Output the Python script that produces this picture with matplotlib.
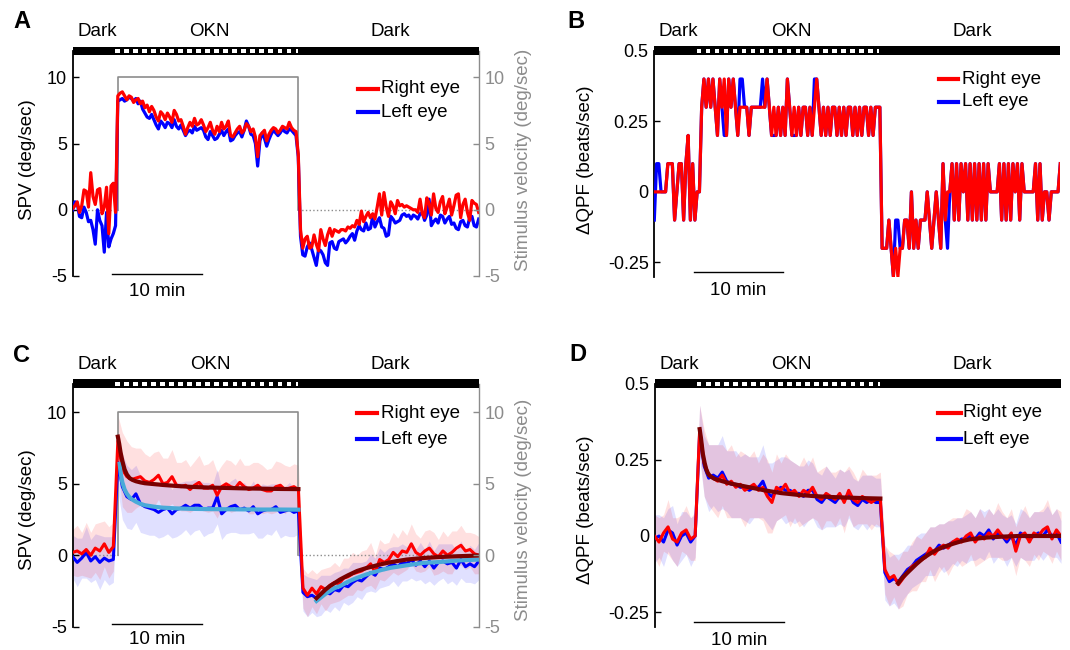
import numpy as np
import matplotlib
matplotlib.use("Agg")
import matplotlib.pyplot as plt
from matplotlib.patches import Rectangle
from matplotlib.lines import Line2D
import matplotlib.transforms as mtransforms

plt.rcParams['font.family'] = ['Liberation Sans', 'DejaVu Sans']

# ---------------- data ----------------
T_MIN, T_MAX = -5, 40
OKN_START, OKN_END = 0, 20
SCALE_BAR = (-0.6, 9.3)  # 10 min
phase_labels = ["Dark", "OKN", "Dark"]
phase_centers = [-2.3, 10.2, 30.2]

t_half = np.arange(T_MIN, T_MAX + 0.01, 0.5)      # 91 samples
t_quarter = np.arange(T_MIN, T_MAX + 0.001, 0.25)  # 181 samples

stim_t = [-5, 0, 0, 20, 20, 40]
stim_v = [0, 0, 10, 10, 0, 0]

# Panel A : SPV single subject (deg/sec), 15 s samples
spv_right_A = [
    0.1, 0.3, 0.6, -0.2, 0.3, 1.5, 1.4, 0.2, 2.8, 1.0, 0.4, 1.5, 1.6, -0.3, 0.2, 1.7, -1.8, 1.8, 2.0, -0.2,
    8.6, 8.8, 8.9, 8.6, 8.3, 8.6, 8.5, 8.1, 8.3, 8.4, 8.0, 8.2, 7.7, 7.9, 7.4, 7.8, 7.5, 7.0, 6.7, 7.4,
    7.2, 6.8, 7.3, 7.0, 6.6, 7.5, 7.2, 6.7, 6.8, 6.3, 5.7, 6.2, 6.6, 6.3, 6.9, 6.4, 6.5, 6.8, 6.4, 5.9,
    6.2, 6.6, 6.0, 5.7, 6.3, 5.9, 6.6, 6.1, 6.3, 6.7, 5.6, 5.5, 5.8, 6.1, 6.3, 5.8, 6.0, 6.5, 6.3, 5.9,
    6.1, 5.5, 4.0, 5.6, 5.8, 6.0, 5.2, 5.7, 6.0, 6.2, 6.1, 5.8, 6.0, 6.3, 6.2, 6.1, 6.6, 6.2, 6.0, 5.9,
    4.2, -1.5, -2.9, -2.2, -2.0, -2.9, -2.8, -1.9, -2.6, -3.1, -1.5, -2.2, -2.7, -1.9, -1.4, -2.0, -1.5, -1.6, -1.7, -1.5,
    -1.5, -1.6, -1.3, -1.4, -1.2, -1.3, -0.8, -1.1, -0.1, -0.9, -0.5, -0.2, -0.6, -0.3, -0.7, 0.2, 1.2, -0.4, 1.3, 0.2,
    -0.5, 0.6, 0.3, -0.3, 0.7, 0.3, 0.4, 0.2, 0.3, 0.2, 0.1, 0.0, 0.0, -0.2, 0.8, -0.3, -0.6, 0.9, 0.5, -0.4,
    1.2, 0.1, -0.2, 0.6, 1.0, -0.3, 0.2, 0.8, -0.4, 0.3, 1.1, 1.2, -0.6, 0.4, 0.8, -0.2, -0.8, 0.7, 0.5, 0.4,
    -0.2]
spv_left_A = [
    0.0, 0.6, 0.5, -0.5, -0.6, 0.2, -0.2, -0.9, -0.8, -1.5, -2.6, 0.0, -0.8, -1.2, -3.2, -0.2, -2.8, -2.2, -1.8, -1.2,
    8.2, 8.3, 8.4, 8.2, 8.3, 8.5, 8.4, 8.2, 8.4, 8.0, 8.2, 7.6, 7.3, 7.0, 6.9, 7.2, 6.8, 6.4, 6.1, 6.7,
    6.5, 6.2, 6.6, 6.5, 6.2, 6.8, 6.3, 6.1, 6.4, 6.0, 5.6, 5.9, 6.0, 5.8, 6.3, 6.0, 6.1, 6.2, 6.0, 5.5,
    5.3, 5.9, 5.6, 5.3, 5.4, 5.7, 6.0, 5.6, 5.9, 6.1, 5.2, 5.3, 5.6, 5.8, 5.9, 5.5, 6.0, 6.7, 6.3, 5.7,
    5.6, 5.0, 3.3, 5.2, 5.8, 5.4, 4.8, 5.3, 5.7, 6.0, 5.8, 5.6, 5.8, 6.1, 5.9, 5.8, 6.1, 6.0, 5.8, 5.6,
    4.0, -2.0, -3.4, -3.5, -2.8, -2.5, -3.0, -3.6, -4.2, -3.0, -3.1, -3.4, -4.0, -4.2, -2.5, -2.4, -2.9, -3.0, -2.4, -2.3,
    -2.2, -2.5, -2.3, -2.0, -1.8, -2.3, -1.6, -1.2, -1.5, -1.6, -1.0, -1.5, -1.4, -0.5, -1.3, -0.9, -0.6, -1.3, -1.4, -2.0,
    -1.9, -0.5, -0.7, -1.0, -0.9, -0.8, -0.4, -0.3, -0.5, -0.4, -0.7, -0.4, -0.5, -0.7, -0.3, -0.2, -0.8, -0.4, 0.8, -1.2,
    -0.9, -0.7, -1.0, -0.4, -0.5, -1.0, -0.7, -0.5, -1.1, -1.0, -1.4, -1.5, -0.9, -0.8, -1.2, -1.3, -0.6, -0.5, -1.2, -1.3,
    -0.7]

# Panel B : dQPF single subject, in tenths of beats/sec, 15 s samples
qpf_right_B_tenths = (
    [0, 0, 0, 0, 0, 0, 1, 1, 1, -1, 0, 1, 1, -1, 1, 2, -1, 1, -1, 0, 0]
    + [3, 4, 3, 4, 3, 4, 3, 2, 4, 3, 4, 2, 4, 3, 4, 3, 2, 3, 3, 3]
    + [3, 2, 3, 3, 3, 3, 3, 3, 3, 4, 3, 2, 3, 2, 3, 2, 3, 2, 4, 3]
    + [2, 3, 2, 3, 2, 3, 3, 2, 3, 2, 3, 4, 3, 2, 3, 2, 3, 2, 3, 3]
    + [2, 3, 2, 3, 2, 3, 3, 2, 3, 2, 3, 2, 3, 3, 2, 3, 2, 3, 3, 3]
    + [-2, -2, -2, -1, -2, -3, -2, -3, -2, -2, -1, -1, -2, 0, -2, -1, -2, -1, -1, -1]
    + [0, -1, -2, -1, 0, -1, -2, 1, -1, 0, 0, 1, -1, 1, -1, 1, 0, 1, -1, 1]
    + [-1, 1, -1, 1, -1, 1, -1, 1, 0, 0, 0, 0, 1, -1, 1, -1, 1, -1, 1, 0]
    + [1, -1, 1, 0, 0, 0, 0, 0, 1, -1, 1, -1, 0, 0, -1, 0, 0, 0, 0, 1])
qpf_left_B_tenths = (
    [-1, 1, 1, 0, 0, 0, 1, 1, 1, -1, 0, 1, 1, -1, 1, 2, -1, 1, -1, 0, 0]
    + [3, 4, 3, 4, 3, 4, 3, 2, 4, 3, 2, 2, 4, 3, 4, 3, 2, 4, 4, 3]
    + [3, 2, 3, 3, 3, 3, 3, 4, 3, 4, 3, 2, 2, 2, 3, 2, 3, 2, 4, 3]
    + [2, 2, 2, 3, 2, 3, 3, 2, 3, 2, 4, 4, 3, 2, 3, 2, 3, 2, 3, 3]
    + [2, 3, 2, 3, 2, 3, 3, 2, 3, 2, 3, 2, 3, 3, 2, 3, 2, 3, 3, 3]
    + [-2, -2, -2, -1, -2, -3, -1, -1, -2, -2, -1, -1, -2, 0, -2, -1, -2, -1, -1, -1]
    + [0, -1, -2, -1, 0, -1, -2, 1, -1, -2, 0, 1, -1, 1, -1, 1, 0, 1, -1, 1]
    + [-1, 1, -1, 1, -1, 1, -1, 1, 0, 0, 0, 0, 1, -1, 1, -1, 1, -1, 1, 0]
    + [1, -1, 1, 0, 0, 0, 0, 0, 1, -1, 1, -1, 0, 0, -1, 0, 0, 0, 0, 1])

# Panel C : SPV group mean and SD (deg/sec), 30 s samples
spv_right_C = [
    0.2, 0.3, 0.1, 0.4, 0.0, 0.5, 0.3, 0.8, 0.2, 0.6,
    8.0, 6.0, 5.5, 5.3, 5.4, 5.5, 5.2, 5.1, 5.3, 5.6,
    5.0, 5.1, 5.5, 4.9, 4.8, 4.9, 4.6, 4.9, 5.1, 4.7,
    4.7, 4.9, 4.2, 4.8, 5.0, 4.8, 4.7, 5.1, 4.8, 4.6,
    4.7, 4.9, 4.6, 4.5, 4.5, 4.8, 4.9, 4.6, 4.7, 4.8,
    4.6, -2.3, -2.8, -2.3, -2.7, -2.2, -2.4, -2.1, -1.9, -2.0,
    -1.6, -1.5, -1.3, -1.2, -1.1, -0.9, -0.6, -1.2, -0.3, -0.5,
    -0.3, 0.2, -0.1, 0.3, 0.2, 0.8, 0.2, 0.0, 0.3, 0.5,
    0.1, -0.1, 0.3, 0.0, 0.2, 0.5, 0.7, 0.3, 0.4, 0.1,
    0.0]
spv_left_C = [
    -0.1, -0.5, -0.2, 0.2, -0.4, -0.1, -0.5, -0.2, -0.4, -0.3,
    6.5, 4.8, 4.1, 3.9, 4.3, 3.6, 3.4, 3.3, 3.2, 3.0,
    3.2, 3.3, 2.9, 3.2, 3.3, 3.5, 3.3, 3.5, 3.5, 3.2,
    3.3, 3.3, 4.1, 2.9, 3.2, 3.4, 3.5, 3.2, 3.3, 3.1,
    3.4, 2.9, 3.1, 3.2, 3.2, 3.4, 3.0, 3.1, 3.2, 3.0,
    3.1, -2.6, -2.9, -2.8, -3.0, -2.8, -2.6, -2.7, -2.4, -2.5,
    -2.1, -2.2, -1.9, -1.7, -1.8, -1.5, -1.2, -1.4, -0.9, -1.0,
    -0.8, -0.6, -0.8, -0.5, -0.6, -0.3, -0.7, -0.4, -0.8, -0.4,
    -0.9, -0.5, -0.4, -0.6, -0.5, -0.9, -0.3, -0.8, -0.6, -0.8,
    -0.4]
spv_right_sd_C = [
    1.6, 1.8, 1.5, 1.9, 1.6, 1.7, 2.0, 1.6, 1.8, 1.7,
    1.8, 2.6, 2.5, 2.3, 2.1, 2.0, 1.9, 1.8, 1.9, 1.7,
    1.8, 1.7, 1.9, 1.6, 1.7, 1.8, 1.6, 1.7, 1.9, 1.6,
    1.7, 1.8, 1.6, 1.5, 1.7, 1.8, 1.6, 1.7, 1.5, 1.7,
    1.8, 1.6, 1.7, 1.5, 1.6, 1.8, 1.6, 1.7, 1.5, 1.6,
    1.7, 1.4, 1.5, 1.3, 1.4, 1.2, 1.5, 1.3, 1.4, 1.2,
    1.4, 1.3, 1.5, 1.2, 1.4, 1.3, 1.5, 1.2, 1.4, 1.3,
    1.2, 1.4, 1.3, 1.5, 1.2, 1.4, 1.3, 1.2, 1.4, 1.3,
    1.5, 1.2, 1.4, 1.3, 1.5, 1.2, 1.4, 1.3, 1.2, 1.4,
    1.3]
spv_left_sd_C = [
    1.5, 1.7, 1.4, 1.8, 1.5, 1.6, 1.9, 1.5, 1.7, 1.6,
    2.0, 2.3, 2.2, 2.1, 2.0, 2.0, 1.9, 1.9, 1.8, 1.8,
    1.9, 1.8, 1.7, 1.9, 1.8, 1.7, 1.9, 1.8, 1.7, 1.9,
    1.8, 1.7, 1.9, 1.8, 1.7, 1.8, 1.9, 1.7, 1.8, 1.6,
    1.8, 1.7, 1.9, 1.7, 1.8, 1.6, 1.8, 1.7, 1.9, 1.7,
    1.6, 1.3, 1.4, 1.2, 1.3, 1.4, 1.2, 1.3, 1.2, 1.4,
    1.2, 1.3, 1.4, 1.2, 1.3, 1.1, 1.3, 1.2, 1.4, 1.2,
    1.3, 1.2, 1.4, 1.3, 1.2, 1.3, 1.1, 1.3, 1.2, 1.4,
    1.2, 1.3, 1.2, 1.4, 1.3, 1.2, 1.3, 1.1, 1.3, 1.2,
    1.3]
# exponential fits
fit_okn_right_C_t = [0, 0.15, 0.3, 0.5, 0.75, 1.0, 1.3, 1.6, 2.0, 2.5, 3.0, 4.0, 5.0, 6.5, 8.0, 10, 12, 14, 16, 18, 20]
fit_okn_right_C_v = [8.3, 7.8, 7.2, 6.6, 6.0, 5.65, 5.4, 5.28, 5.18, 5.1, 5.04, 4.98, 4.92, 4.85, 4.79, 4.74, 4.71, 4.68, 4.66, 4.64, 4.63]
fit_okn_left_C_t = [0.2, 0.35, 0.5, 0.75, 1.0, 1.3, 1.6, 2.0, 2.5, 3.0, 4.0, 5.0, 6.5, 8.0, 10, 12, 14, 16, 18, 20]
fit_okn_left_C_v = [6.4, 5.6, 5.1, 4.6, 4.3, 4.05, 3.9, 3.75, 3.6, 3.5, 3.4, 3.33, 3.28, 3.25, 3.23, 3.22, 3.21, 3.2, 3.2, 3.19]
fit_dark_C_t = [22.0, 22.5, 23.0, 23.5, 24.0, 24.6, 25.5, 26.5, 27.5, 28.3, 29.2, 30.2, 31.0, 32.0, 33.9, 35.7, 37.6, 40.0]
fit_dark_right_C_v = [-3.0, -2.7, -2.4, -2.15, -1.95, -1.7, -1.4, -1.1, -0.9, -0.77, -0.62, -0.49, -0.4, -0.3, -0.19, -0.12, -0.07, -0.02]
fit_dark_left_C_v = [-3.2, -2.95, -2.7, -2.5, -2.3, -2.16, -1.85, -1.58, -1.35, -1.19, -1.03, -0.88, -0.8, -0.7, -0.53, -0.47, -0.37, -0.3]

# Panel D : dQPF group mean and SD (beats/sec), 30 s samples
qpf_right_D = [
    0.00, -0.02, 0.01, 0.03, -0.01, -0.02, 0.01, 0.02, -0.01, 0.00,
    0.35, 0.24, 0.20, 0.19, 0.18, 0.20, 0.17, 0.18, 0.16, 0.17,
    0.15, 0.16, 0.17, 0.15, 0.16, 0.13, 0.11, 0.16, 0.15, 0.17,
    0.14, 0.15, 0.13, 0.15, 0.14, 0.16, 0.13, 0.12, 0.14, 0.13,
    0.12, 0.14, 0.11, 0.15, 0.12, 0.11, 0.13, 0.12, 0.11, 0.12,
    0.12, -0.11, -0.14, -0.13, -0.16, -0.14, -0.12, -0.10, -0.09, -0.08,
    -0.07, -0.04, -0.06, -0.04, -0.03, -0.04, -0.02, -0.01, -0.02, 0.00,
    0.01, -0.02, 0.00, -0.01, 0.01, 0.00, 0.02, 0.00, -0.01, 0.01,
    -0.05, 0.00, 0.01, -0.02, 0.01, 0.00, 0.02, 0.03, -0.01, 0.02,
    0.00]
qpf_left_D = [
    -0.01, 0.00, -0.02, 0.02, 0.01, -0.03, 0.00, 0.01, -0.02, 0.00,
    0.34, 0.23, 0.19, 0.20, 0.19, 0.21, 0.18, 0.17, 0.17, 0.16,
    0.16, 0.15, 0.16, 0.16, 0.18, 0.14, 0.13, 0.15, 0.16, 0.15,
    0.15, 0.14, 0.14, 0.13, 0.15, 0.15, 0.12, 0.11, 0.13, 0.12,
    0.11, 0.13, 0.12, 0.14, 0.11, 0.10, 0.12, 0.11, 0.12, 0.11,
    0.11, -0.12, -0.15, -0.14, -0.15, -0.13, -0.11, -0.10, -0.08, -0.07,
    -0.06, -0.05, -0.05, -0.03, -0.04, -0.03, -0.02, -0.02, -0.01, -0.01,
    0.00, -0.01, 0.01, 0.00, 0.02, -0.01, 0.01, 0.00, -0.02, 0.00,
    -0.03, 0.01, 0.00, -0.01, 0.00, 0.01, 0.00, 0.02, 0.00, 0.01,
    -0.02]
qpf_right_sd_D = [
    0.07, 0.08, 0.06, 0.09, 0.07, 0.08, 0.06, 0.08, 0.07, 0.08,
    0.08, 0.11, 0.10, 0.11, 0.12, 0.10, 0.11, 0.12, 0.10, 0.11,
    0.12, 0.10, 0.11, 0.09, 0.11, 0.12, 0.10, 0.11, 0.09, 0.10,
    0.11, 0.09, 0.10, 0.11, 0.09, 0.10, 0.08, 0.10, 0.09, 0.08,
    0.09, 0.08, 0.10, 0.08, 0.09, 0.07, 0.09, 0.08, 0.09, 0.08,
    0.09, 0.08, 0.09, 0.07, 0.08, 0.09, 0.07, 0.08, 0.09, 0.07,
    0.08, 0.07, 0.09, 0.08, 0.07, 0.09, 0.08, 0.07, 0.08, 0.09,
    0.07, 0.08, 0.09, 0.07, 0.08, 0.07, 0.09, 0.08, 0.07, 0.08,
    0.08, 0.07, 0.09, 0.08, 0.07, 0.08, 0.07, 0.09, 0.08, 0.07,
    0.08]
qpf_left_sd_D = [
    0.08, 0.07, 0.08, 0.07, 0.09, 0.07, 0.08, 0.07, 0.08, 0.07,
    0.09, 0.10, 0.11, 0.10, 0.11, 0.12, 0.10, 0.11, 0.11, 0.10,
    0.11, 0.11, 0.10, 0.10, 0.12, 0.10, 0.11, 0.10, 0.10, 0.11,
    0.10, 0.10, 0.09, 0.10, 0.10, 0.09, 0.09, 0.09, 0.10, 0.09,
    0.08, 0.09, 0.09, 0.08, 0.08, 0.08, 0.08, 0.09, 0.08, 0.08,
    0.08, 0.09, 0.08, 0.08, 0.09, 0.08, 0.08, 0.07, 0.08, 0.08,
    0.07, 0.08, 0.08, 0.07, 0.08, 0.08, 0.07, 0.08, 0.07, 0.08,
    0.08, 0.07, 0.08, 0.08, 0.07, 0.08, 0.08, 0.07, 0.08, 0.07,
    0.07, 0.08, 0.08, 0.07, 0.08, 0.07, 0.08, 0.08, 0.07, 0.08,
    0.07]
fit_okn_D_t = [0, 0.15, 0.35, 0.55, 0.72, 0.9, 1.09, 1.35, 1.64, 2.5, 3.49, 5.33, 7.18, 9.0, 10.9, 12.7, 14.6, 16.4, 18.6, 20.0]
fit_okn_D_v = [0.351, 0.32, 0.27, 0.24, 0.22, 0.207, 0.199, 0.193, 0.188, 0.18, 0.172, 0.161, 0.15, 0.141, 0.135, 0.131, 0.128, 0.126, 0.124, 0.123]
fit_dark_D_t = [21.97, 22.5, 23.3, 24.0, 24.7, 25.4, 26.2, 27.1, 28.1, 29.0, 29.9, 31.8, 33.6, 35.4, 40.0]
fit_dark_D_v = [-0.155, -0.135, -0.112, -0.092, -0.074, -0.06, -0.046, -0.035, -0.025, -0.017, -0.011, -0.005, -0.002, 0.0, 0.0]

# ---------------- style ----------------
RED = '#ff0000'
BLUE = '#0000ff'
FIT_RED = '#7a0000'
FIT_BLUE = '#4aaad8'
GRAY = '#8c8c8c'
FS = 13.5

W, H = 1070, 650
fig = plt.figure(figsize=(W / 100, H / 100), dpi=100)


def px_axes(left, right, top, bottom):
    return fig.add_axes([left / W, 1 - bottom / H, (right - left) / W, (bottom - top) / H])


def fig_pt(x, y):
    return x / W, 1 - y / H


def style_main(ax, ylim, yticks, yticklabels):
    ax.set_xlim(T_MIN, T_MAX)
    ax.set_ylim(*ylim)
    for s in ['top', 'bottom', 'right']:
        ax.spines[s].set_visible(False)
    ax.spines['left'].set_linewidth(1.3)
    ax.set_xticks([])
    ax.set_yticks(yticks)
    ax.set_yticklabels(yticklabels)
    ax.tick_params(axis='y', direction='in', length=4, width=1, labelsize=FS - 0.5, pad=4)
    ax.patch.set_alpha(0)


def right_axis(ax, ylim, yticks, yticklabels):
    ax2 = ax.twinx()
    ax2.set_ylim(*ylim)
    for s in ['top', 'bottom', 'left']:
        ax2.spines[s].set_visible(False)
    ax2.spines['right'].set_color(GRAY)
    ax2.spines['right'].set_linewidth(1.0)
    ax2.set_yticks(yticks)
    ax2.set_yticklabels(yticklabels)
    ax2.tick_params(axis='y', direction='in', length=4, width=1, colors=GRAY,
                    labelsize=FS - 0.5, pad=4)
    return ax2


def top_bar(left, right, top, bottom, text_y):
    bx = px_axes(left, right, top, bottom)
    bx.set_xlim(T_MIN, T_MAX)
    bx.set_ylim(0, 1)
    bx.axis('off')
    bx.add_patch(Rectangle((T_MIN, 0), T_MAX - T_MIN, 1, color='black', lw=0))
    for k in range(OKN_START, OKN_END + 1):
        x0 = k - 0.3
        x1 = min(k + 0.2, OKN_END - 0.05)
        bx.add_patch(Rectangle((x0, 0.27), x1 - x0, 0.46, color='white', lw=0))
    tr = mtransforms.blended_transform_factory(bx.transData, fig.transFigure)
    for lab, c in zip(phase_labels, phase_centers):
        bx.text(c, 1 - text_y / H, lab, transform=tr, ha='center', va='center', fontsize=FS)
    return bx


def legend(x_handle0, x_handle1, x_text, y1, y2):
    for y, col, lab in [(y1, RED, 'Right eye'), (y2, BLUE, 'Left eye')]:
        xa, ya = fig_pt(x_handle0, y)
        xb, _ = fig_pt(x_handle1, y)
        fig.add_artist(Line2D([xa, xb], [ya, ya], transform=fig.transFigure, color=col, lw=3))
        xt, yt = fig_pt(x_text, y)
        fig.text(xt, yt, lab, ha='left', va='center', fontsize=FS)


def scale_bar(ax, y_bar, y_text):
    ax.plot(list(SCALE_BAR), [y_bar, y_bar], color='black', lw=1, clip_on=False)
    ax.text(sum(SCALE_BAR) / 2, y_text, '10 min', ha='center', va='center', fontsize=FS,
            clip_on=False)


def stimulus(ax):
    ax.plot(stim_t[1:5], stim_v[1:5], color=GRAY, lw=1.2, zorder=1)
    ax.plot(stim_t[0:2], stim_v[0:2], color=GRAY, lw=1.0, ls=':', zorder=1)
    ax.plot(stim_t[4:6], stim_v[4:6], color=GRAY, lw=1.0, ls=':', zorder=1)


def ylab(x, y, text, color='black'):
    fx, fy = fig_pt(x, y)
    fig.text(fx, fy, text, rotation=90, ha='center', va='center', fontsize=FS, color=color)


def panel_letter(x, y, s):
    fx, fy = fig_pt(x, y)
    fig.text(fx, fy, s, ha='center', va='center', fontsize=17, fontweight='bold')


spv_ticks = [-5, 0, 5, 10]
spv_labels = ['-5', '0', '5', '10']
qpf_ticks = [-0.25, 0, 0.25, 0.5]
qpf_labels = ['-0.25', '0', '0.25', '0.5']

# ---------------- Panel A ----------------
axA = px_axes(72.7, 478.7, 50.8, 276.0)
style_main(axA, (-5, 12), spv_ticks, spv_labels)
right_axis(axA, (-5, 12), spv_ticks, spv_labels)
stimulus(axA)
axA.plot(t_quarter, spv_left_A, color=BLUE, lw=2.3, zorder=3)
axA.plot(t_quarter, spv_right_A, color=RED, lw=2.3, zorder=4)
scale_bar(axA, -4.87, -6.2)
top_bar(72.7, 478.7, 46.5, 55.0, 32)
legend(358, 378, 381, 88.5, 112.3)
ylab(28, 160, 'SPV (deg/sec)')
ylab(524, 160, 'Stimulus velocity (deg/sec)', GRAY)
panel_letter(22, 22, 'A')

# ---------------- Panel B ----------------
axB = px_axes(654.3, 1060.3, 50.8, 276.5)
style_main(axB, (-0.3, 0.5), qpf_ticks, qpf_labels)
axB.plot(t_quarter, np.array(qpf_left_B_tenths) / 10, color=BLUE, lw=2.3, zorder=3)
axB.plot(t_quarter, np.array(qpf_right_B_tenths) / 10, color=RED, lw=2.3, zorder=4)
scale_bar(axB, -0.285, -0.348)
top_bar(654.3, 1060.3, 46.3, 55.0, 32)
legend(939, 958, 961.5, 79, 101.7)
ylab(586, 160, '\u0394QPF (beats/sec)')
panel_letter(576, 22, 'B')

# ---------------- Panel C ----------------
axC = px_axes(72.7, 479.0, 383.8, 626.7)
style_main(axC, (-5, 12), spv_ticks, spv_labels)
right_axis(axC, (-5, 12), spv_ticks, spv_labels)
rC = np.array(spv_right_C)
lC = np.array(spv_left_C)
axC.fill_between(t_half, lC - np.array(spv_left_sd_C), lC + np.array(spv_left_sd_C),
                 color=BLUE, alpha=0.12, lw=0, zorder=1)
axC.fill_between(t_half, rC - np.array(spv_right_sd_C), rC + np.array(spv_right_sd_C),
                 color=RED, alpha=0.12, lw=0, zorder=1)
stimulus(axC)
axC.plot(t_half, lC, color=BLUE, lw=2.2, zorder=3)
axC.plot(t_half, rC, color=RED, lw=2.2, zorder=4)
axC.plot(fit_okn_left_C_t, fit_okn_left_C_v, color=FIT_BLUE, lw=3, zorder=5)
axC.plot(fit_dark_C_t, fit_dark_left_C_v, color=FIT_BLUE, lw=3, zorder=5)
axC.plot(fit_okn_right_C_t, fit_okn_right_C_v, color=FIT_RED, lw=3, zorder=6)
axC.plot(fit_dark_C_t, fit_dark_right_C_v, color=FIT_RED, lw=3, zorder=6)
scale_bar(axC, -4.81, -5.9)
top_bar(72.7, 479.0, 379.3, 388.3, 364)
legend(357, 377, 380.7, 413.3, 439)
ylab(28, 510, 'SPV (deg/sec)')
ylab(524, 510, 'Stimulus velocity (deg/sec)', GRAY)
panel_letter(22, 356, 'C')

# ---------------- Panel D ----------------
axD = px_axes(654.5, 1061.0, 383.8, 627.3)
style_main(axD, (-0.3, 0.5), qpf_ticks, qpf_labels)
rD = np.array(qpf_right_D)
lD = np.array(qpf_left_D)
axD.fill_between(t_half, lD - np.array(qpf_left_sd_D), lD + np.array(qpf_left_sd_D),
                 color=BLUE, alpha=0.12, lw=0, zorder=1)
axD.fill_between(t_half, rD - np.array(qpf_right_sd_D), rD + np.array(qpf_right_sd_D),
                 color=RED, alpha=0.12, lw=0, zorder=1)
axD.plot(t_half, lD, color=BLUE, lw=2.2, zorder=3)
axD.plot(t_half, rD, color=RED, lw=2.2, zorder=4)
axD.plot(fit_okn_D_t, fit_okn_D_v, color=FIT_RED, lw=3, zorder=6)
axD.plot(fit_dark_D_t, fit_dark_D_v, color=FIT_RED, lw=3, zorder=6)
scale_bar(axD, -0.284, -0.342)
top_bar(654.5, 1061.0, 379.3, 388.3, 364)
legend(938.3, 960.7, 963.3, 412.7, 439)
ylab(586, 510, '\u0394QPF (beats/sec)')
panel_letter(578, 355, 'D')

fig.savefig('out.png', dpi=100)
